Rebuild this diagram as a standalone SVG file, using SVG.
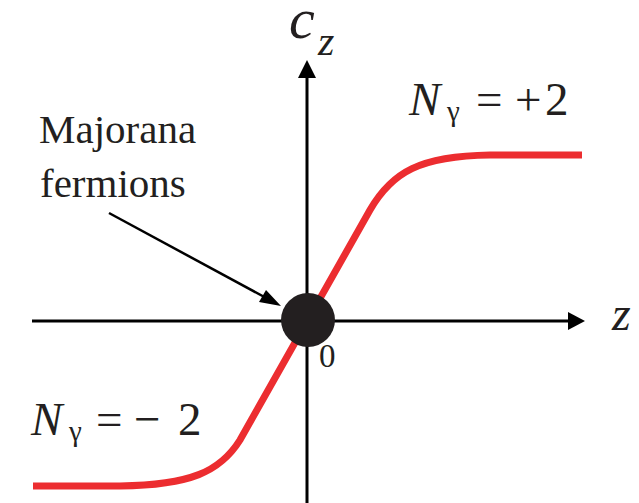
<svg xmlns="http://www.w3.org/2000/svg" width="639" height="503" viewBox="0 0 639 503">
<style>
text{font-family:'Liberation Serif','DejaVu Serif','Times New Roman',serif;fill:#231f20}
.i{font-style:italic}
.ax{stroke:#000;stroke-width:3;fill:none}
</style>
<rect width="639" height="503" fill="#fff"/>
<g id="axes">
<line class="ax" x1="32" y1="321" x2="570" y2="321"/>
<polygon points="585,321 568,312 568,330" fill="#000"/>
<line class="ax" x1="307" y1="503" x2="307" y2="76"/>
<polygon points="307,60 298,78 316,78" fill="#000"/>
</g>
<g id="curve">
<path d="M33,486 L120,486 C190,485 220,472 240,440 L370,210 C392,172 420,156 490,155 L582,155" fill="none" stroke="#ec2d30" stroke-width="7"/>
</g>
<g id="majorana-point">
<circle cx="308" cy="320" r="27" fill="#231f20"/>
</g>
<g id="connectors">
<line x1="109" y1="213" x2="268" y2="299" stroke="#000" stroke-width="2.5"/>
<polygon points="281,306 259,302 266,290" fill="#000"/>
</g>
<g id="labels">
<text class="i" x="289" y="38" font-size="58">c</text>
<text class="i" x="318" y="55" font-size="42">z</text>
<text class="i" x="612" y="330" font-size="48">z</text>
<text x="319" y="367" font-size="33">0</text>
<text x="39" y="143" font-size="41">Majorana</text>
<text x="40" y="197" font-size="41">fermions</text>
<text font-size="47" y="115"><tspan class="i" x="409">N</tspan><tspan font-size="29" x="447" y="121">γ</tspan><tspan x="476" y="115">=</tspan><tspan x="515">+</tspan><tspan x="545">2</tspan></text>
<text font-size="47" y="435"><tspan class="i" x="31">N</tspan><tspan font-size="29" x="69" y="441">γ</tspan><tspan x="96" y="435">=</tspan><tspan x="134">−</tspan><tspan x="178">2</tspan></text>
</g>
</svg>
